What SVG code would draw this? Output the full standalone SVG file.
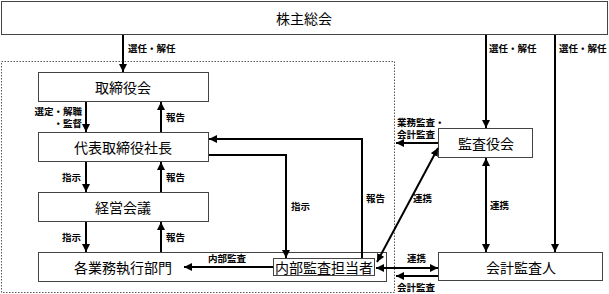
<svg xmlns="http://www.w3.org/2000/svg" width="609" height="294" viewBox="0 0 609 294">
<defs>
<marker id="ah" markerUnits="userSpaceOnUse" markerWidth="9" markerHeight="9" refX="8" refY="4" orient="auto-start-reverse"><path d="M0,0 L8,4 L0,8 z" fill="#000"/></marker>
</defs>
<style>
.box{fill:#fff;stroke:#444;stroke-width:1}
.t{font-family:"Noto Sans CJK JP","Noto Sans CJK SC",sans-serif;font-size:14px;fill:#000;text-anchor:middle;dominant-baseline:central}
.s{font-family:"Noto Sans CJK JP","Noto Sans CJK SC",sans-serif;font-size:9.5px;font-weight:bold;fill:#000;dominant-baseline:central}
.c{fill:none;stroke:#000;stroke-width:2}
.a{marker-end:url(#ah)}
.b{marker-start:url(#ah);marker-end:url(#ah)}
</style>
<rect x="1.5" y="61.5" width="393" height="231" fill="none" stroke="#555" stroke-width="1" stroke-dasharray="1.5,1.5"/>
<g id="shareholders"><rect class="box" x="1.5" y="1.5" width="606" height="33"/><text class="t" x="304" y="18">株主総会</text></g>
<g id="board"><rect class="box" x="38.5" y="72.5" width="170" height="29"/><text class="t" x="123" y="87">取締役会</text></g>
<g id="president"><rect class="box" x="38.5" y="132.5" width="170" height="29"/><text class="t" x="123" y="147">代表取締役社長</text></g>
<g id="mgmt"><rect class="box" x="38.5" y="192.5" width="170" height="29"/><text class="t" x="123" y="207">経営会議</text></g>
<g id="divisions"><rect class="box" x="38.5" y="252.5" width="348" height="29"/><text class="t" x="123" y="267">各業務執行部門</text></g>
<g id="internal"><rect class="box" x="273.5" y="258.5" width="101" height="17"/><text class="t" x="324" y="267">内部監査担当者</text></g>
<g id="auditboard"><rect class="box" x="438.5" y="128.5" width="94" height="29"/><text class="t" x="486" y="143">監査役会</text></g>
<g id="accountant"><rect class="box" x="438.5" y="252.5" width="164" height="28"/><text class="t" x="521" y="267">会計監査人</text></g>
<g id="connectors">
<line class="c a" x1="123" y1="35" x2="123" y2="72"/>
<line class="c a" x1="486" y1="35" x2="486" y2="128"/>
<line class="c a" x1="555" y1="35" x2="555" y2="252"/>
<line class="c a" x1="86" y1="102" x2="86" y2="132"/>
<line class="c a" x1="161" y1="132" x2="161" y2="102"/>
<line class="c a" x1="86" y1="162" x2="86" y2="192"/>
<line class="c a" x1="161" y1="192" x2="161" y2="162"/>
<line class="c a" x1="86" y1="222" x2="86" y2="252"/>
<line class="c a" x1="161" y1="252" x2="161" y2="222"/>
<line class="c a" x1="273" y1="267" x2="184" y2="267"/>
<polyline class="c a" points="209,155 286,155 286,258"/>
<polyline class="c a" points="362,258 362,139 209,139"/>
<line class="c a" x1="438" y1="143" x2="396" y2="143"/>
<line class="c b" x1="438" y1="148" x2="377" y2="262"/>
<line class="c b" x1="486" y1="158" x2="486" y2="252"/>
<line class="c b" x1="376" y1="268" x2="438" y2="268"/>
<line class="c a" x1="438" y1="276" x2="396" y2="276"/>
<text class="s" x="128" y="48">選任・解任</text>
<text class="s" x="489" y="48">選任・解任</text>
<text class="s" x="559" y="48">選任・解任</text>
<text class="s" x="82" y="110.5" text-anchor="end">選定・解職</text>
<text class="s" x="82" y="123" text-anchor="end">・監督</text>
<text class="s" x="166" y="117">報告</text>
<text class="s" x="62" y="177">指示</text>
<text class="s" x="166" y="177">報告</text>
<text class="s" x="62" y="237">指示</text>
<text class="s" x="166" y="237">報告</text>
<text class="s" x="208" y="258">内部監査</text>
<text class="s" x="291" y="206">指示</text>
<text class="s" x="366" y="198">報告</text>
<text class="s" x="413" y="198">連携</text>
<text class="s" x="490" y="205">連携</text>
<text class="s" x="407" y="258">連携</text>
<text class="s" x="397" y="287">会計監査</text>
<text class="s" x="397" y="121.5">業務監査・</text>
<text class="s" x="397" y="134">会計監査</text>
</g>
</svg>
